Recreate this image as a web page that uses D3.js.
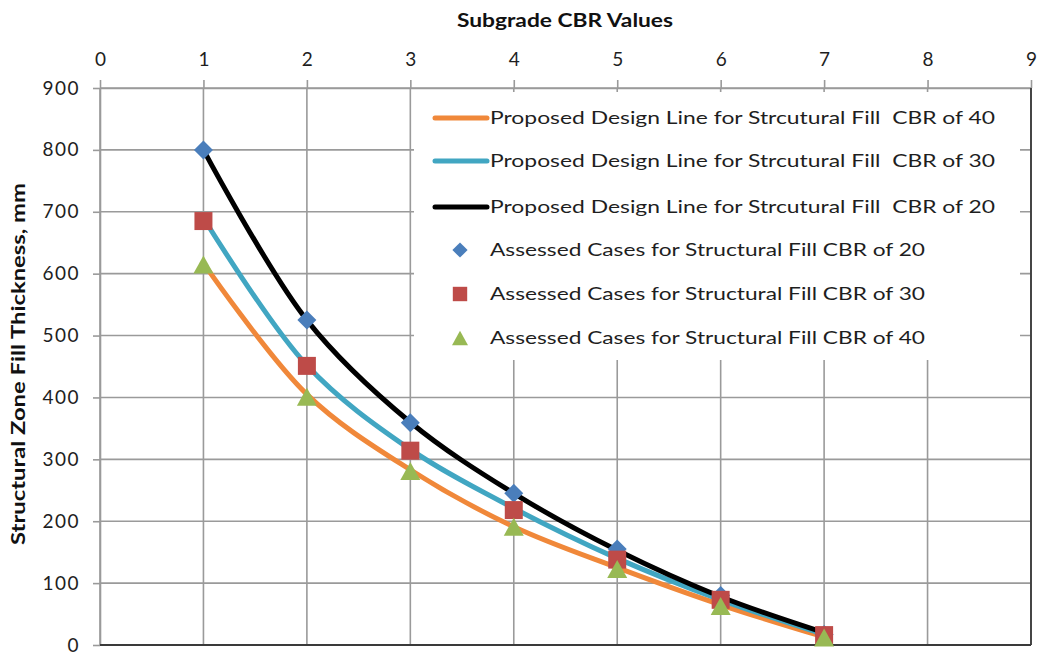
<!DOCTYPE html>
<html>
<head>
<meta charset="utf-8">
<script src="https://cdn.jsdelivr.net/npm/d3@7"></script>
<style>
  html, body { margin: 0; padding: 0; background: #fff; }
  svg { display: block; font-family: Lato, "Open Sans", sans-serif; }
  text { white-space: pre; }
</style>
</head>
<body>
<svg id="chart" width="1040" height="655"></svg>
<script>
// Subgrade CBR values (x) and fill thickness (mm)
const cbrValues = [1, 2, 3, 4, 5, 6, 7];

// Proposed design lines
const designCbr40 = [617, 405, 283, 191, 125, 65, 13];
const designCbr30 = [690, 452, 316, 221, 140, 73, 17];
const designCbr20 = [800, 525, 360, 245, 153, 78, 20];

// Assessed cases
const assessedCbr20 = [800, 525, 359, 245, 155, 80, 17];
const assessedCbr30 = [685, 451, 314, 218, 138, 73, 16];
const assessedCbr40 = [615, 401, 281, 191, 123, 63, 12];

const xTicks = [0, 1, 2, 3, 4, 5, 6, 7, 8, 9];
const yTicks = [0, 100, 200, 300, 400, 500, 600, 700, 800, 900];

const legendLabels = [
  "Proposed Design Line for Strcutural Fill  CBR of 40",
  "Proposed Design Line for Strcutural Fill  CBR of 30",
  "Proposed Design Line for Strcutural Fill  CBR of 20",
  "Assessed Cases for Structural Fill CBR of 20",
  "Assessed Cases for Structural Fill CBR of 30",
  "Assessed Cases for Structural Fill CBR of 40"
];

const colors = {
  orange: "#F0883A",
  aqua: "#41A6C2",
  black: "#000000",
  blue: "#4A7EBB",
  red: "#BE4B48",
  green: "#98B954"
};

const svg = d3.select("#chart");
const margin = { left: 100, right: 1031, top: 88, bottom: 645 };

const x = d3.scaleLinear().domain([0, 9]).range([margin.left, margin.right]);
const y = d3.scaleLinear().domain([0, 900]).range([margin.bottom, margin.top]);

// Grid
const grid = svg.append("g").attr("stroke", "#9a9a9a").attr("stroke-width", 1.6);
grid.selectAll("line.v").data(xTicks).join("line")
  .attr("x1", d => x(d)).attr("x2", d => x(d))
  .attr("y1", y(900)).attr("y2", y(0));
grid.selectAll("line.h").data(yTicks).join("line")
  .attr("x1", x(0)).attr("x2", x(9))
  .attr("y1", d => y(d)).attr("y2", d => y(d));

// Top axis
const topAxis = svg.append("g")
  .attr("transform", `translate(0,${y(900)})`)
  .call(d3.axisTop(x).tickValues(xTicks).tickSize(8).tickSizeOuter(0).tickPadding(14));
// Left axis
const leftAxis = svg.append("g")
  .attr("transform", `translate(${x(0)},0)`)
  .call(d3.axisLeft(y).tickValues(yTicks).tickSize(7).tickSizeOuter(0).tickPadding(13));

[topAxis, leftAxis].forEach(g => {
  g.select(".domain").attr("stroke", "#9a9a9a").attr("stroke-width", 1.6);
  g.selectAll(".tick line").attr("stroke", "#9a9a9a").attr("stroke-width", 1.6);
  g.selectAll(".tick text")
    .attr("fill", "#1e1e1e")
    .style("font-size", "19px")
    .style("letter-spacing", "1.5px")
    .style("font-family", "Lato, sans-serif");
});
topAxis.selectAll(".tick text").attr("dx", "0.75px");

// Bottom and right frame lines
svg.append("line")
  .attr("x1", x(0)).attr("x2", x(9)).attr("y1", y(0)).attr("y2", y(0))
  .attr("stroke", "#3a3a3a").attr("stroke-width", 1.8);
svg.append("line")
  .attr("x1", x(9)).attr("x2", x(9)).attr("y1", y(900)).attr("y2", y(0))
  .attr("stroke", "#3a3a3a").attr("stroke-width", 1.8);

// Axis titles
svg.append("text")
  .attr("x", 565).attr("y", 27)
  .attr("text-anchor", "middle")
  .style("font-weight", "bold").style("font-size", "19px")
  .attr("textLength", 216).attr("lengthAdjust", "spacingAndGlyphs")
  .attr("fill", "#111")
  .text("Subgrade CBR Values");
svg.append("text")
  .attr("transform", "translate(25,364) rotate(-90)")
  .attr("text-anchor", "middle")
  .style("font-weight", "bold").style("font-size", "18px")
  .attr("textLength", 362).attr("lengthAdjust", "spacingAndGlyphs")
  .attr("fill", "#111")
  .text("Structural Zone Fill Thickness, mm");

// Legend background
svg.append("rect")
  .attr("x", 414).attr("y", 92).attr("width", 606).attr("height", 268)
  .attr("fill", "#fff");

// Design lines
const line = d3.line()
  .x((d, i) => x(cbrValues[i]))
  .y(d => y(d))
  .curve(d3.curveCatmullRom.alpha(0.5));

const lineSeries = [
  { data: designCbr40, color: colors.orange },
  { data: designCbr30, color: colors.aqua },
  { data: designCbr20, color: colors.black }
];
svg.append("g").selectAll("path").data(lineSeries).join("path")
  .attr("d", d => line(d.data))
  .attr("fill", "none")
  .attr("stroke", d => d.color)
  .attr("stroke-width", 5)
  .attr("stroke-linecap", "round")
  .attr("stroke-linejoin", "round");

// Marker shapes, centred on their bounding box
function markerPath(shape, s) {
  const h = s / 2;
  if (shape === "diamond") return `M0,${-h}L${h},0L0,${h}L${-h},0Z`;
  if (shape === "square") return `M${-h},${-h}H${h}V${h}H${-h}Z`;
  const th = s * 0.9 / 2;
  return `M0,${-th}L${h},${th}L${-h},${th}Z`;
}

const markerSeries = [
  { data: assessedCbr20, shape: "diamond", color: colors.blue, size: 19 },
  { data: assessedCbr30, shape: "square", color: colors.red, size: 18 },
  { data: assessedCbr40, shape: "triangle", color: colors.green, size: 20 }
];
markerSeries.forEach(s => {
  svg.append("g").selectAll("path").data(s.data).join("path")
    .attr("transform", (d, i) => `translate(${x(cbrValues[i])},${y(d)})`)
    .attr("d", markerPath(s.shape, s.size))
    .attr("fill", s.color);
});

// Legend entries
const legendY = [118, 161, 207, 250, 294, 338];
const legendWidths = [505, 505, 505, 435, 435, 435];
const legend = svg.append("g");
legendLabels.forEach((label, i) => {
  const g = legend.append("g").attr("transform", `translate(0,${legendY[i]})`);
  if (i < 3) {
    g.append("line")
      .attr("x1", 435).attr("x2", 487)
      .attr("stroke", lineSeries[i].color)
      .attr("stroke-width", 5).attr("stroke-linecap", "round");
  } else {
    const m = markerSeries[i - 3];
    g.append("path")
      .attr("transform", "translate(460,0)")
      .attr("d", markerPath(m.shape, m.size * 0.8))
      .attr("fill", m.color);
  }
  g.append("text")
    .attr("x", 490).attr("y", 6)
    .attr("fill", "#1e1e1e")
    .style("font-size", "17.5px")
    .attr("textLength", legendWidths[i])
    .attr("lengthAdjust", "spacingAndGlyphs")
    .text(label);
});
</script>
</body>
</html>
